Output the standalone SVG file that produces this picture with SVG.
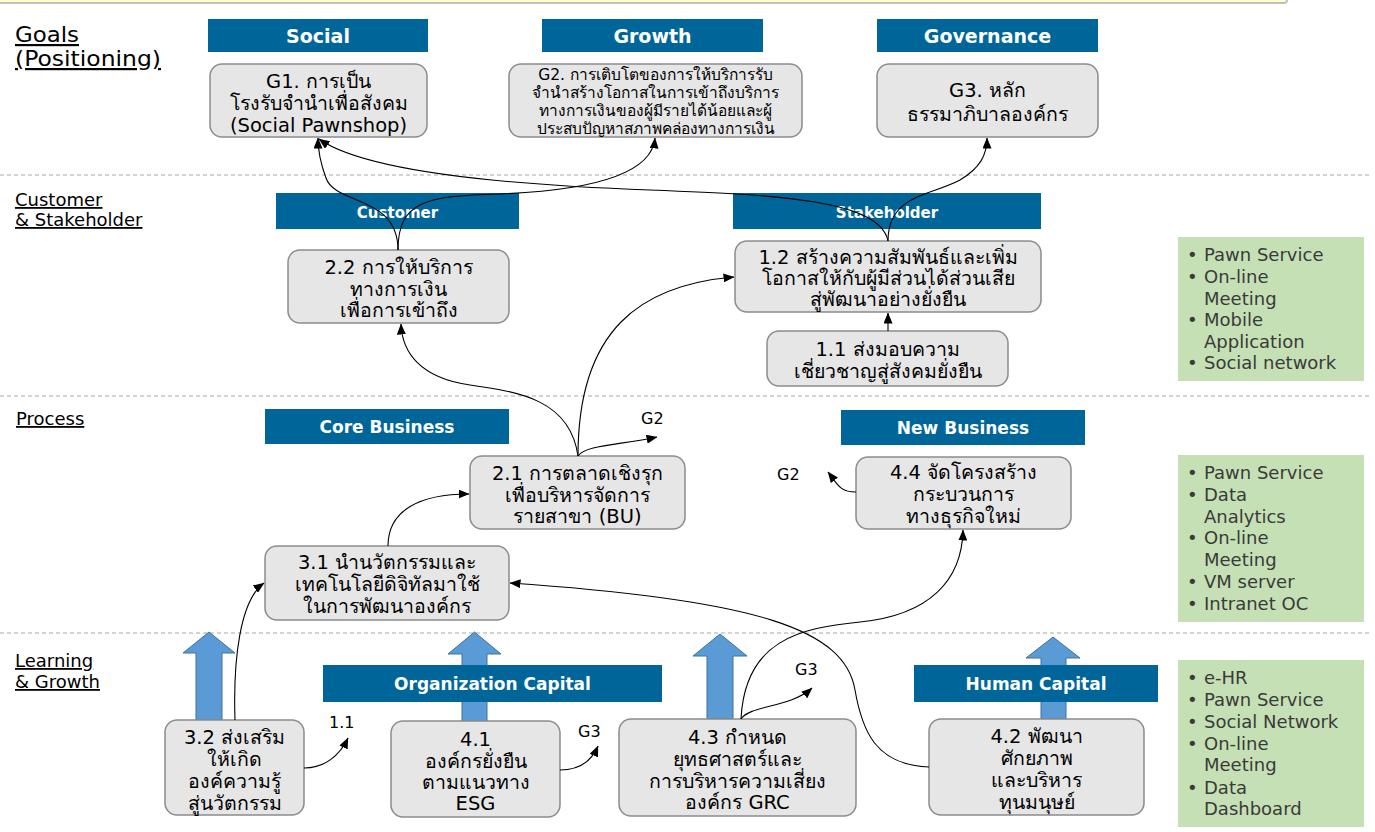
<svg xmlns="http://www.w3.org/2000/svg" width="1375" height="832" viewBox="0 0 1375 832">
<style>
.bg{fill:#ffffff}
.sep{stroke:#A6A6A6;stroke-width:1;stroke-dasharray:4 3;fill:none}
.lbl{font-family:"DejaVu Sans","Noto Sans",sans-serif;fill:#000;text-decoration:underline}
.hdr{fill:#006699}
.hdrt{font-family:"DejaVu Sans","Noto Sans",sans-serif;font-weight:bold;fill:#fff;text-anchor:middle}
.box{fill:#E6E6E6;stroke:#8C8C8C;stroke-width:1.5}
.bt{font-family:"DejaVu Sans","Noto Sans",sans-serif;font-size:19.5px;fill:#000;text-anchor:middle}
.bt2{font-family:"DejaVu Sans","Noto Sans",sans-serif;font-size:15.5px;fill:#000;text-anchor:middle}
.grn{fill:#C5E0B4}
.gt{font-family:"DejaVu Sans","Noto Sans",sans-serif;font-size:18px;fill:#3A3A3A}
.up{fill:#5B9BD5;stroke:#41719C;stroke-width:1}
.con{fill:none;stroke:#000;stroke-width:1.1;marker-end:url(#ah)}
.tag{font-family:"DejaVu Sans","Noto Sans",sans-serif;font-size:16px;fill:#000}
</style>
<defs>
<marker id="ah" viewBox="0 0 11 9" refX="10.5" refY="4.5" markerWidth="11" markerHeight="9" markerUnits="userSpaceOnUse" orient="auto"><path d="M0,0 L11,4.5 L0,9 z" fill="#000"/></marker>
</defs>
<rect class="bg" x="0" y="0" width="1375" height="832"/>
<rect x="-10" y="-20" width="1297" height="23" rx="3" fill="#FFFFCC" stroke="#BFBFBF" stroke-width="2"/>

<g id="separators">
<line class="sep" x1="0" y1="175" x2="1370" y2="175"/>
<line class="sep" x1="0" y1="396" x2="1370" y2="396"/>
<line class="sep" x1="0" y1="633" x2="1370" y2="633"/>
</g>

<g id="row-labels">
<text class="lbl" x="15" y="42" font-size="22" textLength="64" lengthAdjust="spacingAndGlyphs">Goals</text>
<text class="lbl" x="15" y="66" font-size="22" textLength="146" lengthAdjust="spacingAndGlyphs">(Positioning)</text>
<text class="lbl" x="15" y="206" font-size="18">Customer</text>
<text class="lbl" x="15" y="226" font-size="18">&amp; Stakeholder</text>
<text class="lbl" x="16" y="425" font-size="18">Process</text>
<text class="lbl" x="15" y="667" font-size="18">Learning</text>
<text class="lbl" x="15" y="688" font-size="18">&amp; Growth</text>
</g>

<g id="up-arrows">
<polygon class="up" points="209,632 235,653 222,653 222,720 196,720 196,653 183,653"/>
<polygon class="up" points="474.5,632 501,654 487,654 487,721 462,721 462,654 448,654"/>
<polygon class="up" points="720,634 747,656 733,656 733,719 707,719 707,656 693,656"/>
<polygon class="up" points="1053,637 1080,658 1066,658 1066,719 1041,719 1041,658 1026,658"/>
</g>

<g id="headers">
<g id="h-social"><rect class="hdr" x="208" y="19" width="220" height="33"/><text class="hdrt" x="318" y="43" font-size="19">Social</text></g>
<g id="h-growth"><rect class="hdr" x="542" y="19" width="221" height="33"/><text class="hdrt" x="652.5" y="43" font-size="19">Growth</text></g>
<g id="h-governance"><rect class="hdr" x="877" y="19" width="221" height="33"/><text class="hdrt" x="987.5" y="43" font-size="19">Governance</text></g>
<g id="h-customer"><rect class="hdr" x="276" y="193" width="243" height="36"/><text class="hdrt" x="397.5" y="218" font-size="15">Customer</text></g>
<g id="h-stakeholder"><rect class="hdr" x="733" y="193" width="308" height="36"/><text class="hdrt" x="887" y="218" font-size="15">Stakeholder</text></g>
<g id="h-core"><rect class="hdr" x="265" y="409" width="244" height="35"/><text class="hdrt" x="387" y="433" font-size="17">Core Business</text></g>
<g id="h-new"><rect class="hdr" x="841" y="410" width="244" height="35"/><text class="hdrt" x="963" y="434" font-size="17">New Business</text></g>
<g id="h-org"><rect class="hdr" x="323" y="665" width="339" height="37"/><text class="hdrt" x="492.5" y="690" font-size="17">Organization Capital</text></g>
<g id="h-human"><rect class="hdr" x="914" y="665" width="244" height="37"/><text class="hdrt" x="1036" y="690" font-size="17">Human Capital</text></g>
</g>

<g id="G1"><rect class="box" x="210" y="64" width="217" height="73" rx="12"/>
<text class="bt" x="318.5" y="88">G1. การเป็น</text><text class="bt" x="318.5" y="110">โรงรับจำนำเพื่อสังคม</text><text class="bt" x="318.5" y="132">(Social Pawnshop)</text></g>
<g id="G2"><rect class="box" x="509" y="64" width="293" height="73" rx="12"/>
<text class="bt2" x="655.5" y="80">G2. การเติบโตของการให้บริการรับ</text><text class="bt2" x="655.5" y="98">จำนำสร้างโอกาสในการเข้าถึงบริการ</text><text class="bt2" x="655.5" y="116">ทางการเงินของผู้มีรายได้น้อยและผู้</text><text class="bt2" x="655.5" y="134">ประสบปัญหาสภาพคล่องทางการเงิน</text></g>
<g id="G3"><rect class="box" x="877" y="64" width="221" height="73" rx="12"/>
<text class="bt" x="987.5" y="97">G3. หลัก</text><text class="bt" x="987.5" y="121">ธรรมาภิบาลองค์กร</text></g>

<g id="n2-2"><rect class="box" x="288" y="250" width="221" height="73" rx="12"/>
<text class="bt" x="398.5" y="274">2.2 การให้บริการ</text><text class="bt" x="398.5" y="296">ทางการเงิน</text><text class="bt" x="398.5" y="317">เพื่อการเข้าถึง</text></g>
<g id="n1-2"><rect class="box" x="735" y="241" width="306" height="71" rx="12"/>
<text class="bt" x="888" y="264">1.2 สร้างความสัมพันธ์และเพิ่ม</text><text class="bt" x="888" y="285">โอกาสให้กับผู้มีส่วนได้ส่วนเสีย</text><text class="bt" x="888" y="306">สู่พัฒนาอย่างยั่งยืน</text></g>
<g id="n1-1"><rect class="box" x="767" y="331" width="241" height="55" rx="12"/>
<text class="bt" x="887.5" y="356">1.1 ส่งมอบความ</text><text class="bt" x="887.5" y="378">เชี่ยวชาญสู่สังคมยั่งยืน</text></g>

<g id="n2-1"><rect class="box" x="470" y="456" width="215" height="73" rx="12"/>
<text class="bt" x="577.5" y="480">2.1 การตลาดเชิงรุก</text><text class="bt" x="577.5" y="502">เพื่อบริหารจัดการ</text><text class="bt" x="577.5" y="523">รายสาขา (BU)</text></g>
<g id="n3-1"><rect class="box" x="265" y="546" width="244" height="74" rx="12"/>
<text class="bt" x="387" y="569">3.1 นำนวัตกรรมและ</text><text class="bt" x="387" y="591">เทคโนโลยีดิจิทัลมาใช้</text><text class="bt" x="387" y="613">ในการพัฒนาองค์กร</text></g>
<g id="n4-4"><rect class="box" x="856" y="457" width="215" height="72" rx="12"/>
<text class="bt" x="963.5" y="479">4.4 จัดโครงสร้าง</text><text class="bt" x="963.5" y="501">กระบวนการ</text><text class="bt" x="963.5" y="523">ทางธุรกิจใหม่</text></g>

<g id="n3-2"><rect class="box" x="165" y="720" width="139" height="95" rx="12"/>
<text class="bt" x="234.5" y="744">3.2 ส่งเสริม</text><text class="bt" x="234.5" y="766">ให้เกิด</text><text class="bt" x="234.5" y="788">องค์ความรู้</text><text class="bt" x="234.5" y="810">สู่นวัตกรรม</text></g>
<g id="n4-1"><rect class="box" x="391" y="721" width="169" height="96" rx="12"/>
<text class="bt" x="475.5" y="746">4.1</text><text class="bt" x="475.5" y="768">องค์กรยั่งยืน</text><text class="bt" x="475.5" y="789">ตามแนวทาง</text><text class="bt" x="475.5" y="810">ESG</text></g>
<g id="n4-3"><rect class="box" x="619" y="719" width="237" height="97" rx="12"/>
<text class="bt" x="737.5" y="744">4.3 กำหนด</text><text class="bt" x="737.5" y="766">ยุทธศาสตร์และ</text><text class="bt" x="737.5" y="788">การบริหารความเสี่ยง</text><text class="bt" x="737.5" y="809">องค์กร GRC</text></g>
<g id="n4-2"><rect class="box" x="929" y="719" width="215" height="96" rx="12"/>
<text class="bt" x="1036.5" y="743">4.2 พัฒนา</text><text class="bt" x="1036.5" y="765">ศักยภาพ</text><text class="bt" x="1036.5" y="787">และบริหาร</text><text class="bt" x="1036.5" y="809">ทุนมนุษย์</text></g>

<g id="tech-1"><rect class="grn" x="1178" y="237" width="186" height="144"/>
<text class="gt" x="1187" y="261">•</text><text class="gt" x="1204" y="261">Pawn Service</text>
<text class="gt" x="1187" y="283">•</text><text class="gt" x="1204" y="283">On-line</text>
<text class="gt" x="1204" y="305">Meeting</text>
<text class="gt" x="1187" y="326">•</text><text class="gt" x="1204" y="326">Mobile</text>
<text class="gt" x="1204" y="348">Application</text>
<text class="gt" x="1187" y="369">•</text><text class="gt" x="1204" y="369">Social network</text></g>
<g id="tech-2"><rect class="grn" x="1178" y="455" width="186" height="167"/>
<text class="gt" x="1187" y="479">•</text><text class="gt" x="1204" y="479">Pawn Service</text>
<text class="gt" x="1187" y="501">•</text><text class="gt" x="1204" y="501">Data</text>
<text class="gt" x="1204" y="523">Analytics</text>
<text class="gt" x="1187" y="544">•</text><text class="gt" x="1204" y="544">On-line</text>
<text class="gt" x="1204" y="566">Meeting</text>
<text class="gt" x="1187" y="588">•</text><text class="gt" x="1204" y="588">VM server</text>
<text class="gt" x="1187" y="610">•</text><text class="gt" x="1204" y="610">Intranet OC</text></g>
<g id="tech-3"><rect class="grn" x="1178" y="660" width="186" height="167"/>
<text class="gt" x="1187" y="684">•</text><text class="gt" x="1204" y="684">e-HR</text>
<text class="gt" x="1187" y="706">•</text><text class="gt" x="1204" y="706">Pawn Service</text>
<text class="gt" x="1187" y="728">•</text><text class="gt" x="1204" y="728">Social Network</text>
<text class="gt" x="1187" y="750">•</text><text class="gt" x="1204" y="750">On-line</text>
<text class="gt" x="1204" y="771">Meeting</text>
<text class="gt" x="1187" y="794">•</text><text class="gt" x="1204" y="794">Data</text>
<text class="gt" x="1204" y="815">Dashboard</text></g>

<g id="tags">
<text class="tag" x="641" y="424">G2</text>
<text class="tag" x="777" y="480">G2</text>
<text class="tag" x="795" y="675">G3</text>
<text class="tag" x="578" y="737">G3</text>
<text class="tag" x="329" y="728">1.1</text>
</g>

<g id="connectors">
<path class="con" d="M398,250 C398,195 335,205 326,178 C320,162 318,152 318,138"/>
<path class="con" d="M398,250 C398,200 428,196 500,194 C600,190 652,172 655,138"/>
<path class="con" d="M888,241 C880,200 780,195 650,190 C480,184 360,168 319,139"/>
<path class="con" d="M888,241 C888,195 930,196 960,180 C980,168 987,155 987,138"/>
<path class="con" d="M888,331 L888,313"/>
<path class="con" d="M578,456 C570,400 520,392 470,385 C420,378 402,352 401,324"/>
<path class="con" d="M578,456 C578,330 640,285 734,277"/>
<path class="con" d="M578,456 C585,445 620,445 657,437"/>
<path class="con" d="M856,492 C840,492 838,485 828,472"/>
<path class="con" d="M741,719 C745,640 800,628 860,622 C930,615 962,580 963,530"/>
<path class="con" d="M741,719 C750,705 790,708 812,688"/>
<path class="con" d="M929,767 C875,765 862,730 855,690 C845,630 760,600 510,583"/>
<path class="con" d="M388,546 C388,510 420,494 469,494"/>
<path class="con" d="M235,720 C233,660 240,600 264,583"/>
<path class="con" d="M304,768 C325,768 340,755 348,738"/>
<path class="con" d="M560,770 C580,770 592,760 598,746"/>
</g>
</svg>
